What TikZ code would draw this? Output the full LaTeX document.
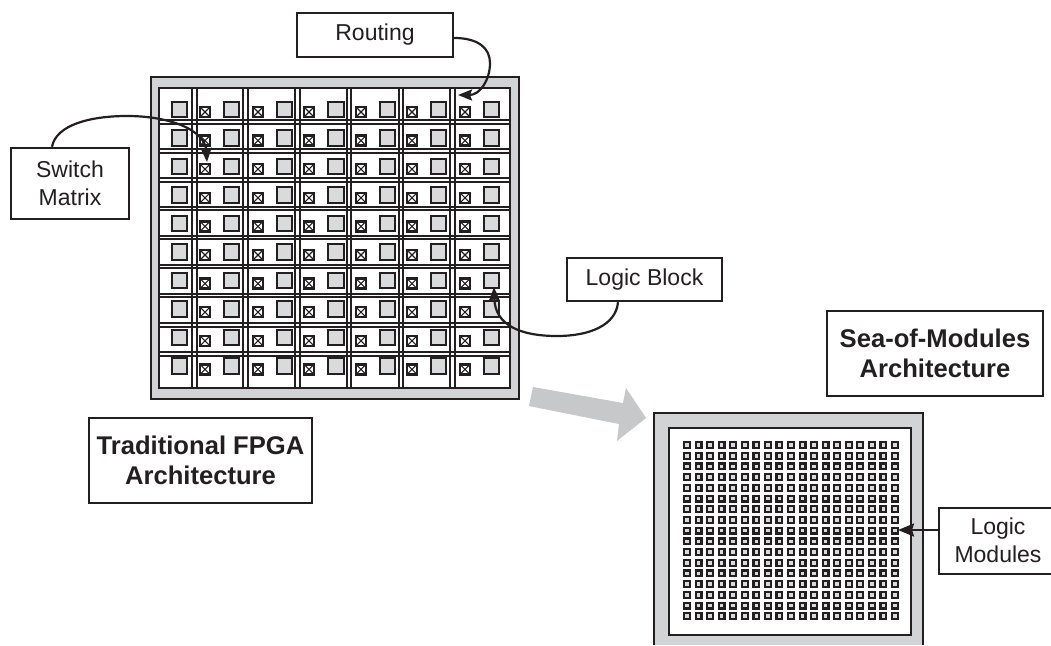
\documentclass[tikz,border=0pt]{standalone}
\usepackage{fontspec}
\setmainfont{Liberation Sans}
\usetikzlibrary{arrows.meta}
\definecolor{ink}{HTML}{231F20}
\definecolor{panel}{HTML}{D1D3D4}
\definecolor{bigarrow}{HTML}{C7C8CA}
\definecolor{cellgray}{HTML}{D9DADB}
\tikzset{
  x=1pt,y=-1pt,
  labelbox/.style={draw=ink,line width=2.4pt,fill=white,inner sep=0pt,align=center,text=ink,
    font=\fontsize{23}{28}\selectfont},
  titlebox/.style={labelbox,font=\fontsize{25.6}{30.5}\selectfont\bfseries},
  connector/.style={draw=ink,line width=2.2pt,-{Stealth[length=14pt,width=11pt,inset=2pt]}},
  framepanel/.style={draw=ink,line width=2.5pt,fill=panel},
  framecore/.style={draw=ink,line width=2.6pt,fill=white},
  gridline/.style={draw=ink,line width=1.9pt},
  bigcell/.style={draw=ink,line width=2.1pt,fill=cellgray},
  smallcell/.style={draw=ink,line width=2.4pt,fill=white},
  crossline/.style={draw=ink,line width=1.1pt},
  seacell/.style={draw=ink,line width=2.2pt,fill=cellgray},
}
\begin{document}
\begin{tikzpicture}
\useasboundingbox (0,0) rectangle (1051,645);
\fill[white] (0,0) rectangle (1051,645);

% Traditional FPGA frame
\path[framepanel] (151,77) rectangle (519,399);
\path[framecore] (159,88) rectangle (510,388);
\foreach \gy in {122,151,180,208.5,237.5,266.5,295.5,325,354}{
  \path[gridline] (159,\gy-1.9) -- (510,\gy-1.9);
  \path[gridline] (159,\gy+1.9) -- (510,\gy+1.9);
}
\foreach \gx in {194.5,245.5,297.5,349,401,452.5}{
  \path[gridline] (\gx-2.1,88) -- (\gx-2.1,388);
  \path[gridline] (\gx+2.1,88) -- (\gx+2.1,388);
}
\foreach \r in {0,...,9}{
  \pgfmathsetmacro{\by}{101+28.5*\r}
  \pgfmathsetmacro{\sy}{106+28.6*\r}
  \foreach \bx in {171,223,276,327.5,379,430,483}{
    \path[bigcell] (\bx+.85,\by+.85) rectangle (\bx+16.15,\by+16.15);
  }
  \foreach \sx in {199,252,303,355,406,459}{
    \path[smallcell] (\sx+1,\sy+1) rectangle (\sx+11,\sy+11);
    \path[crossline] (\sx+2,\sy+2) -- (\sx+10,\sy+10) (\sx+10,\sy+2) -- (\sx+2,\sy+10);
  }
}

% Sea-of-modules frame (runs off the lower edge)
\fill[panel] (654,413) rectangle (923,645);
\draw[ink,line width=2.5pt] (654,645) -- (654,413) -- (923,413) -- (923,645);
\path[framecore] (669,428) rectangle (911,635);
\foreach \r in {0,...,16}{
  \foreach \c in {0,...,18}{
    \pgfmathsetmacro{\qx}{683+11.55*\c}
    \pgfmathsetmacro{\qy}{441+10.7*\r}
    \path[seacell] (\qx+1.1,\qy+1.1) rectangle (\qx+6.9,\qy+6.9);
  }
}

% Big migration arrow
\fill[bigarrow] (533,387) -- (623,403) -- (626,388) -- (646,418) -- (617,441) -- (619,424) -- (529,406) -- cycle;

% Label boxes
\node[labelbox,minimum width=156pt,minimum height=44pt] (routing) at (375,35) {Routing};
\node[labelbox,minimum width=118pt,minimum height=71pt] (switch) at (70,183.5) {Switch\\Matrix};
\node[labelbox,minimum width=155pt,minimum height=43pt] (logicblock) at (644.5,279.5) {Logic Block};
\node[titlebox,minimum width=223pt,minimum height=85pt] (traditional) at (200.5,460.5) {Traditional FPGA\\Architecture};
\node[titlebox,minimum width=216pt,minimum height=85pt] (sea) at (935,353.5) {Sea-of-Modules\\Architecture};
\node[inner sep=0pt,text=ink,align=center,font=\fontsize{23}{28}\selectfont] (modules) at (998,540) {Logic\\Modules};
\coordinate (modleft) at (939,530);
\draw[ink,line width=2.4pt] (1051,508) -- (939,508) -- (939,574) -- (1051,574);

% Connector targets
\coordinate (routingtip) at (458,95);
\coordinate (switchtip) at (207,162);
\coordinate (blocktip) at (494,287);
\coordinate (moduletip) at (898,530);

% Connectors
\draw[connector] ([yshift=-3pt]routing.east) .. controls (478,38) and (490,48) .. (490,63)
  .. controls (490,80) and (480,95) .. (routingtip);
\draw[connector] ([xshift=-18pt]switch.north) .. controls (56,125) and (90,116) .. (127,116)
  .. controls (170,116) and (205,130) .. (switchtip);
\draw[connector] ([xshift=-26.5pt]logicblock.south) .. controls (616,325) and (590,336) .. (557,336)
  .. controls (520,336) and (495,325) .. (blocktip);
\draw[connector,-{Stealth[length=16pt,width=13pt,inset=2pt]}] (modleft) -- (moduletip);
\end{tikzpicture}
\end{document}
